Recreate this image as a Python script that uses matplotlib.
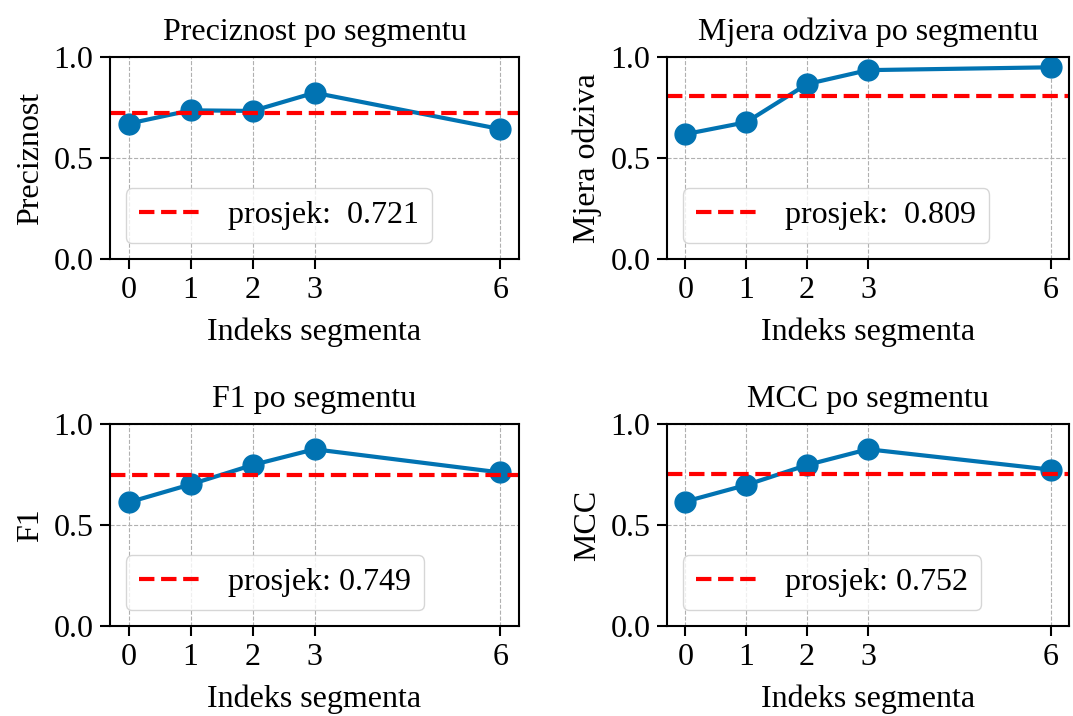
import numpy as np
import matplotlib
matplotlib.use("Agg")
import matplotlib.pyplot as plt

plt.rcParams['font.family'] = ['Liberation Serif', 'DejaVu Serif']
plt.rcParams['font.size'] = 23

segments = [0, 1, 2, 3, 6]

precision = [0.670, 0.736, 0.733, 0.823, 0.643]
recall = [0.618, 0.677, 0.866, 0.935, 0.949]
f1 = [0.612, 0.701, 0.797, 0.875, 0.760]
mcc = [0.616, 0.698, 0.797, 0.875, 0.774]

titles = ["Preciznost po segmentu", "Mjera odziva po segmentu",
          "F1 po segmentu", "MCC po segmentu"]
ylabels = ["Preciznost", "Mjera odziva", "F1", "MCC"]
means = [0.721, 0.809, 0.749, 0.752]
legend_labels = ["prosjek:  0.721", "prosjek:  0.809",
                 "prosjek: 0.749", "prosjek: 0.752"]
series = [precision, recall, f1, mcc]

W, H = 1073, 716
fig = plt.figure(figsize=(W / 100, H / 100), dpi=100)

# axes boxes in pixels: left, top, right, bottom
boxes = [(110, 57, 519, 259), (667, 57, 1069, 259),
         (110, 424, 519, 626), (667, 424, 1069, 626)]

for i in range(4):
    l, t, r, b = boxes[i]
    ax = fig.add_axes([l / W, 1 - b / H, (r - l) / W, (b - t) / H])
    ax.plot(segments, series[i], marker='o', color='#0173B2',
            linewidth=3, markersize=15)
    ax.axhline(means[i], color='red', linestyle='--', linewidth=3,
               label=legend_labels[i])
    ax.set_ylim(0, 1)
    ax.set_xticks(segments)
    ax.set_yticks([0.0, 0.5, 1.0])
    ax.set_title(titles[i], fontsize=23, pad=12)
    ax.set_xlabel("Indeks segmenta", labelpad=9)
    ax.set_ylabel(ylabels[i], labelpad=6)
    ax.grid(True, linestyle='--', linewidth=0.8, color='#b0b0b0')
    ax.legend(loc='lower left')
    for s in ax.spines.values():
        s.set_linewidth(1.5)
    ax.tick_params(width=1.5, length=7, pad=5)

fig.savefig("out.png", dpi=100)
